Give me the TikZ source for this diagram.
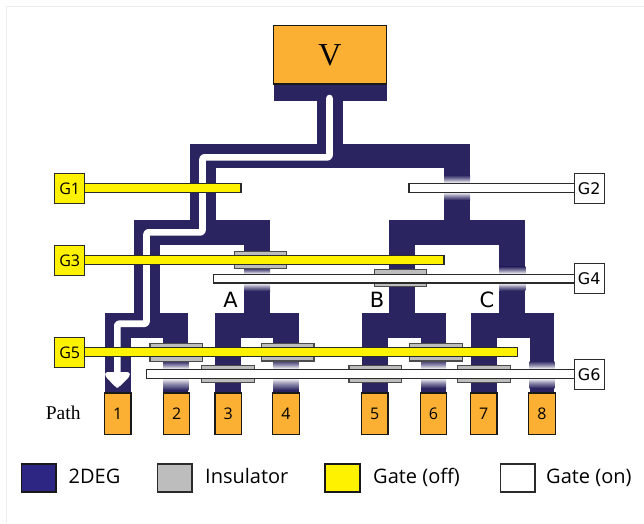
\documentclass[tikz,border=0pt]{standalone}
\usepackage{fontspec}
\setmainfont{Open Sans}
\newfontfamily\serifface{Liberation Serif}
\newfontfamily\vera{DejaVu Sans}
\definecolor{deg}{HTML}{2A2560}
\definecolor{degkey}{HTML}{2E2683}
\definecolor{pad}{HTML}{FBB034}
\definecolor{gateY}{HTML}{FFF200}
\definecolor{ins}{HTML}{BDBDBD}
\definecolor{edge}{HTML}{2B2B2B}
\tikzset{
  degfill/.style={fill=deg,draw=none},
  padbox/.style={draw=black!90,line width=1.2pt,fill=pad,inner sep=0pt,minimum width=26.5,minimum height=41.5,font=\fontsize{16}{16}\selectfont},
  gatebox/.style={draw=edge,line width=1.2pt,inner sep=0pt,minimum width=30,minimum height=30,font=\fontsize{16}{16}\selectfont},
  gateboxon/.style={gatebox,fill=white,font=\vera\fontsize{16}{16}\selectfont},
  gateoff/.style={draw=edge,line width=1.1pt,fill=gateY},
  gateon/.style={draw=edge,line width=1.1pt,fill=white},
  insbar/.style={draw=edge!85,line width=1.1pt,fill=ins},
  keybox/.style={line width=1.2pt},
  keytext/.style={anchor=base west,inner sep=0pt,font=\fontsize{20}{20}\selectfont},
  branchlabel/.style={inner sep=0pt,font=\vera\fontsize{21}{21}\selectfont}
}
% \fadeband{x1}{x2}{y1}{y2}{y3}{y4}: channel fades out between y1-y2 and back in between y3-y4
\newcommand{\fadeband}[6]{%
  \fill[white] (#1,#3) rectangle (#2,#6);
  \shade[top color=deg,bottom color=white,middle color=deg!55] (#1,#3) rectangle (#2,#4);
  \shade[top color=white,bottom color=deg,middle color=deg!55] (#1,#5) rectangle (#2,#6);
  \fill[white] (#1,#4) rectangle (#2,#5);
}
\begin{document}
\begin{tikzpicture}[x=1pt,y=-1pt]
\useasboundingbox (0,0) rectangle (644,523);
\draw[black!7,line width=.6pt] (6,523) -- (6,6) -- (644,6);

% 2DEG channels
\fill[deg] (273.5,84) rectangle (386.5,101);
\fill[deg] (317,100) rectangle (343,144);
\fill[deg] (189.7,143.5) rectangle (470,168);
\fill[deg] (189.7,143.5) rectangle (215.5,221);
\fill[deg] (444,143.5) rectangle (470,221);
% second level
\fill[deg] (133.7,220) rectangle (270,245);
\fill[deg] (133.7,220) rectangle (159.5,314);
\fill[deg] (244,220) rectangle (270,314);
\fill[deg] (388.7,220) rectangle (525.3,245);
\fill[deg] (388.7,220) rectangle (414.7,314);
\fill[deg] (499.3,220) rectangle (525.3,314);
% third level
\fill[deg] (104.7,313) rectangle (188.3,338.3);
\fill[deg] (104.7,313) rectangle (130.7,394);
\fill[deg] (163.3,313) rectangle (188.3,394);
\fill[deg] (215,313) rectangle (298.7,338.3);
\fill[deg] (215,313) rectangle (241,394);
\fill[deg] (273.3,313) rectangle (298.7,394);
\fill[deg] (362,313) rectangle (446,338.3);
\fill[deg] (362,313) rectangle (388,394);
\fill[deg] (421.3,313) rectangle (446,394);
\fill[deg] (470.7,313) rectangle (554.3,338.3);
\fill[deg] (470.7,313) rectangle (496.7,394);
\fill[deg] (529.7,313) rectangle (554.3,394);

% depleted regions under gates that are on
\fadeband{444}{470}{175}{183}{192}{200}
\fadeband{499.3}{525.3}{266.5}{274}{283}{290.5}
\fadeband{244}{270}{268}{274}{283}{291}
\fadeband{163.3}{188.3}{361}{369}{378}{390}
\fadeband{273.3}{298.7}{360}{369}{378}{390}
\fadeband{421.3}{446}{360}{369}{378}{388}
\fadeband{529.7}{554.3}{361}{369}{378}{388}

% current path
\draw[white,line width=6.6pt,line cap=round,line join=round,rounded corners=2pt]
  (329.5,98) -- (329.5,157.3) -- (202.5,157.3) -- (202.5,232.3) -- (146.5,232.3)
  -- (146.5,323.7) -- (117.3,323.7) -- (117.3,376);
\fill[white,rounded corners=2.5pt] (105.3,372) -- (129.6,372) -- (130,376) -- (118.5,387.5) -- (116,387.5) -- (105,376) -- cycle;

% insulators
\draw[insbar] (234.3,251.3) rectangle (286.7,268.3);
\draw[insbar] (374.3,269.7) rectangle (426.7,286.7);
\draw[insbar] (150,343.5) rectangle (202.7,361.5);
\draw[insbar] (261.3,343.5) rectangle (314,361);
\draw[insbar] (409.7,343.5) rectangle (462.3,361);
\draw[insbar] (201.7,365.5) rectangle (254.3,382.7);
\draw[insbar] (349,365.5) rectangle (401.7,382.7);
\draw[insbar] (457.7,365.5) rectangle (510.3,382.7);

% gate bars
\draw[gateoff] (84.7,183.5) rectangle (241,192.5);
\draw[gateon] (409,183.5) rectangle (574.3,192.5);
\draw[gateoff] (84.7,255.5) rectangle (444,264.3);
\draw[gateon] (213.3,274.4) rectangle (574.3,283);
\draw[gateoff] (84.7,347.8) rectangle (517.7,356.3);
\draw[gateon] (146.7,369.8) rectangle (574.3,378.6);

% gate terminals
\node[gatebox,fill=gateY] (G1) at (69.7,188.6) {G1};
\node[gateboxon] (G2) at (589.2,188.6) {G2};
\node[gatebox,fill=gateY] (G3) at (69.7,260.6) {G3};
\node[gateboxon] (G4) at (589.2,278.2) {G4};
\node[gatebox,fill=gateY] (G5) at (69.7,352.7) {G5};
\node[gateboxon] (G6) at (589.2,374.2) {G6};

% source and drains
\node[draw=black!90,line width=1.2pt,fill=pad,minimum width=113,minimum height=58.5,inner sep=0pt,font=\serifface\fontsize{32}{32}\selectfont] (V) at (330,54.8) {V};
\node[padbox] (P1) at (117.8,413.7) {1};
\node[padbox] (P2) at (176.6,413.7) {2};
\node[padbox] (P3) at (228.2,413.7) {3};
\node[padbox] (P4) at (286,413.7) {4};
\node[padbox] (P5) at (374.8,413.7) {5};
\node[padbox] (P6) at (433.5,413.7) {6};
\node[padbox] (P7) at (483.8,413.7) {7};
\node[padbox] (P8) at (542,413.7) {8};

\node[inner sep=0pt,font=\serifface\fontsize{19.5}{20}\selectfont] (pathlabel) at (63.2,412.5) {Path};
\node[branchlabel] (A) at (230.5,300) {A};
\node[branchlabel] (B) at (377,300) {B};
\node[branchlabel] (C) at (487,300) {C};

% legend
\draw[keybox,draw=black!90,fill=degkey] (21.7,464) rectangle (56,492);
\node[keytext] (k1) at (68.5,483.3) {2DEG};
\draw[keybox,draw=edge,fill=ins] (157.3,464) rectangle (192,492);
\node[keytext] (k2) at (205,483.3) {Insulator};
\draw[keybox,draw=black!90,fill=gateY] (325,464) rectangle (360,492);
\node[keytext] (k3) at (373,483.3) {Gate (off)};
\draw[keybox,draw=edge,fill=white] (500.7,464) rectangle (535,492);
\node[keytext] (k4) at (546,483.3) {Gate (on)};
\end{tikzpicture}
\end{document}
